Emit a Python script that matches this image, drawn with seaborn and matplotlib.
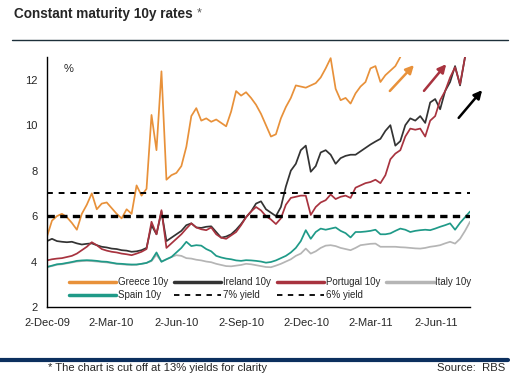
import numpy as np
import pandas as pd
import matplotlib
matplotlib.use('Agg')
import matplotlib.pyplot as plt
import seaborn as sns

# weekly readings, starting 2-Dec-09 (values in %, chart cut off at 13)
greece = [5.1, 5.8, 6.0, 6.1, 5.95, 5.7, 5.4, 6.1, 6.5, 7.0,
          6.3, 6.55, 6.6, 6.35, 6.1, 5.9, 6.3, 6.1, 7.35, 6.9,
          7.2, 10.45, 8.9, 12.37, 7.6, 7.8, 7.9, 8.2, 9.05, 10.4,
          10.75, 10.2, 10.3, 10.15, 10.25, 10.1, 9.95, 10.6, 11.5, 11.3,
          11.45, 11.2, 10.9, 10.5, 10.0, 9.5, 9.6, 10.3, 10.8, 11.2,
          11.75, 11.7, 11.65, 11.75, 11.85, 12.1, 12.5, 12.95, 11.6, 11.1,
          11.2, 10.95, 11.4, 11.7, 11.9, 12.5, 12.6, 11.9, 12.2, 12.4,
          12.6, 13.0]
ireland = [4.9, 5.0, 4.9, 4.87, 4.85, 4.87, 4.8, 4.75, 4.78, 4.8,
           4.72, 4.65, 4.62, 4.57, 4.55, 4.5, 4.48, 4.43, 4.45, 4.5,
           4.6, 5.6, 5.2, 6.2, 4.9, 5.05, 5.2, 5.35, 5.6, 5.68,
           5.5, 5.48, 5.53, 5.55, 5.3, 5.05, 5.1, 5.2, 5.4, 5.65,
           5.95, 6.2, 6.55, 6.65, 6.3, 6.15, 6.0, 6.4, 7.3, 8.0,
           8.3, 8.9, 9.1, 7.95, 8.2, 8.8, 8.9, 8.7, 8.3, 8.55,
           8.65, 8.7, 8.7, 8.85, 9.0, 9.15, 9.28, 9.4, 9.75, 10.0,
           9.1, 9.3, 10.0, 10.3, 10.2, 10.4, 10.1, 11.0, 11.15, 10.7,
           11.5, 11.9, 12.6, 11.75, 13.0]
portugal = [4.05, 4.1, 4.13, 4.15, 4.2, 4.25, 4.35, 4.5, 4.65, 4.85,
            4.72, 4.55, 4.48, 4.43, 4.4, 4.35, 4.32, 4.28, 4.35, 4.43,
            4.55, 5.75, 5.2, 6.26, 4.6, 4.8, 5.0, 5.2, 5.45, 5.68,
            5.5, 5.42, 5.38, 5.5, 5.2, 5.05, 5.0, 5.15, 5.3, 5.6,
            5.95, 6.2, 6.4, 6.25, 6.0, 5.85, 5.65, 5.9, 6.5, 6.8,
            6.85, 6.9, 6.9, 6.05, 6.4, 6.6, 6.7, 6.95, 6.75, 6.85,
            6.9, 6.8, 7.25, 7.35, 7.45, 7.5, 7.6, 7.45, 7.8, 8.5,
            8.75, 8.9, 9.5, 9.85, 9.8, 9.85, 9.5, 10.2, 10.4, 11.1,
            11.5, 12.1, 12.55, 11.8, 13.0]
italy = [3.76, 3.8, 3.86, 3.88, 3.92, 3.96, 4.0, 4.02, 4.03, 4.02,
         4.0, 3.98, 3.96, 3.93, 3.9, 3.88, 3.86, 3.85, 3.86, 3.9,
         3.94, 4.02, 4.3, 4.0, 4.1, 4.2, 4.28, 4.25, 4.15, 4.13,
         4.08, 4.05, 4.0, 3.97, 3.9, 3.85, 3.8, 3.79, 3.82, 3.85,
         3.9, 3.88, 3.84, 3.8, 3.76, 3.75, 3.82, 3.9, 4.0, 4.1,
         4.25, 4.35, 4.57, 4.35, 4.45, 4.6, 4.7, 4.72, 4.68, 4.6,
         4.55, 4.5, 4.6, 4.72, 4.75, 4.78, 4.79, 4.65, 4.65, 4.65,
         4.65, 4.63, 4.62, 4.6, 4.58, 4.57, 4.6, 4.65, 4.68, 4.72,
         4.8, 4.87, 4.79, 5.0, 5.35, 5.75]
spain = [3.76, 3.82, 3.88, 3.9, 3.94, 3.98, 4.03, 4.05, 4.06, 4.05,
         4.03, 4.0, 3.99, 3.95, 3.91, 3.9, 3.88, 3.87, 3.87, 3.9,
         3.94, 4.05, 4.4, 3.99, 4.1, 4.2, 4.4, 4.6, 4.87, 4.68,
         4.72, 4.7, 4.55, 4.45, 4.25, 4.18, 4.13, 4.1, 4.05, 4.03,
         4.06, 4.05, 4.03, 4.0, 3.95, 3.98, 4.05, 4.15, 4.25, 4.4,
         4.6, 4.9, 5.38, 5.0, 5.3, 5.45, 5.4, 5.45, 5.5, 5.35,
         5.25, 5.06, 5.3, 5.3, 5.32, 5.35, 5.4, 5.2, 5.2, 5.24,
         5.35, 5.45, 5.4, 5.3, 5.35, 5.38, 5.4, 5.38, 5.45, 5.53,
         5.6, 5.68, 5.4, 5.7, 5.95, 6.2]

n = len(spain)
dates = pd.date_range('2009-12-02', periods=n, freq='7D')
tick_dates = pd.to_datetime(['2009-12-02', '2010-03-02', '2010-06-02', '2010-09-02',
                             '2010-12-02', '2011-03-02', '2011-06-02'])
tick_labels = ['2-Dec-09', '2-Mar-10', '2-Jun-10', '2-Sep-10', '2-Dec-10', '2-Mar-11', '2-Jun-11']

def pad(v):
    return v + [np.nan] * (n - len(v))

df = pd.DataFrame({'date': dates,
                   'Greece 10y': pad(greece),
                   'Ireland 10y': pad(ireland),
                   'Portugal 10y': pad(portugal),
                   'Italy 10y': pad(italy),
                   'Spain 10y': pad(spain)})
colors = {'Greece 10y': '#E8913A', 'Ireland 10y': '#333333', 'Portugal 10y': '#A8333F',
          'Italy 10y': '#B5B5B5', 'Spain 10y': '#1F9A88'}

sns.set_style('white')
plt.rcParams['font.family'] = ['Liberation Sans', 'DejaVu Sans']

fig = plt.figure(figsize=(5.17, 3.76), dpi=100)
ax = fig.add_axes([47 / 517, 1 - 307 / 376, 423 / 517, 250 / 376])

for name in ['Greece 10y', 'Ireland 10y', 'Portugal 10y', 'Italy 10y', 'Spain 10y']:
    sub = df[['date', name]].dropna()
    sns.lineplot(data=sub, x='date', y=name, color=colors[name], lw=1.25, ax=ax, label=name)
ax.axhline(7, color='black', lw=1.4, ls=(0, (3, 3)), label='7% yield')
ax.axhline(6, color='black', lw=2.4, ls=(0, (2.2, 1.6)), label='6% yield')

ax.set_xlim(pd.Timestamp('2009-12-02'), pd.Timestamp('2011-07-20'))
ax.set_ylim(2, 13)
ax.set_yticks([2, 4, 6, 8, 10, 12])
ax.set_xticks(tick_dates)
ax.set_xticklabels(tick_labels)
ax.set_xlabel('')
ax.set_ylabel('')
for s in ['top', 'right']:
    ax.spines[s].set_visible(False)
for s in ['left', 'bottom']:
    ax.spines[s].set_color('black')
    ax.spines[s].set_linewidth(1.0)
ax.tick_params(axis='both', direction='out', length=4, width=1, color='black',
               labelsize=8, pad=3)
ax.tick_params(axis='x', pad=4)
ax.text(0.04, 0.94, '%', transform=ax.transAxes, fontsize=8)

hl, lb = ax.get_legend_handles_labels()
lookup = dict(zip(lb, hl))
order = ['Greece 10y', 'Spain 10y', 'Ireland 10y', '7% yield', 'Portugal 10y', '6% yield', 'Italy 10y']
leg = ax.legend([lookup[k] for k in order], order, ncol=4, loc='lower left',
                bbox_to_anchor=(0.035, 0.0), frameon=False, fontsize=7,
                handlelength=4.9, handletextpad=0.15, columnspacing=0.6,
                labelspacing=0.3, borderaxespad=0.3)
for lh in leg.get_lines():
    lh.set_linewidth(2.5)
for i in (3, 5):
    leg.get_lines()[i].set_linewidth(1.3)
    leg.get_lines()[i].set_linestyle((0, (3, 3)))

# arrows showing direction
for (x0, y0, x1, y1, c) in [(0.806, 0.856, 0.872, 0.976, '#E8913A'),
                            (0.887, 0.856, 0.948, 0.98, '#A8333F'),
                            (0.969, 0.748, 1.033, 0.876, 'black')]:
    ax.annotate('', xy=(x1, y1), xytext=(x0, y0), xycoords='axes fraction',
                annotation_clip=False,
                arrowprops=dict(arrowstyle='-|>', color=c, lw=1.8, mutation_scale=12))

fig.text(14 / 517, 1 - 14 / 376, 'Constant maturity 10y rates', fontsize=9.8,
         fontweight='bold', va='center', ha='left')
fig.text(197 / 517, 1 - 13 / 376, '*', fontsize=9, color='#555555', va='center', ha='left')
fig.add_artist(plt.Line2D([12 / 517, 508 / 517], [1 - 40 / 376] * 2, color='#1d2f3a', lw=1.0))
fig.add_artist(plt.Line2D([0, 508 / 517], [1 - 359.5 / 376] * 2, color='#0c2f5e', lw=3.0))
fig.text(48 / 517, 1 - 368 / 376, '* The chart is cut off at 13% yields for clarity',
         fontsize=8.1, va='center', ha='left')
fig.text(505 / 517, 1 - 368 / 376, 'Source:  RBS', fontsize=8.1, va='center', ha='right')

fig.savefig('out.png', dpi=100)
